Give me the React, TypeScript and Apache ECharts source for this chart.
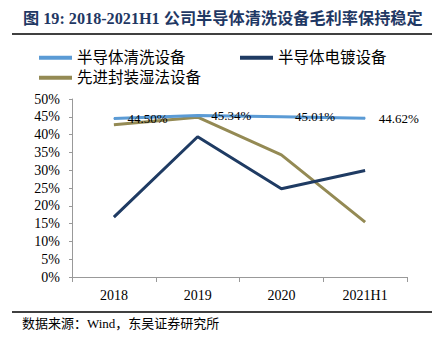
import React, { useEffect, useRef } from "react";
import * as echarts from "echarts";

const categories = ["2018", "2019", "2020", "2021H1"];
const cleaning = [44.5, 45.34, 45.01, 44.62];
const plating = [16.8, 39.4, 24.8, 29.9];
const wetProcess = [42.8, 44.9, 34.3, 15.4];
const yTicks = [0, 5, 10, 15, 20, 25, 30, 35, 40, 45, 50];

const seriesNames = ["半导体清洗设备", "半导体电镀设备", "先进封装湿法设备"];
const colors = ["#5B9BD5", "#1F3B63", "#948A54"];

const SERIF = '"Liberation Serif", "Times New Roman", "Noto Sans CJK SC", serif';

export default function App() {
  const ref = useRef<HTMLDivElement>(null);
  useEffect(() => {
    if (!ref.current) return;
    const chart = echarts.init(ref.current, undefined, { renderer: "svg" });
    const legendText = { fontSize: 15.5, color: "#000", fontFamily: SERIF };
    const legendBase = { itemWidth: 33, itemHeight: 4, icon: "rect", padding: 0, textStyle: legendText, itemGap: 4 };
    chart.setOption({
      animation: false,
      backgroundColor: "#fff",
      grid: { left: 72, right: 38, top: 99, bottom: 65 },
      legend: [
        { ...legendBase, data: [seriesNames[0]], left: 39, top: 50 },
        { ...legendBase, data: [seriesNames[1]], left: 240, top: 50 },
        { ...legendBase, data: [seriesNames[2]], left: 39, top: 70 },
      ],
      xAxis: {
        type: "category",
        data: categories,
        boundaryGap: true,
        axisLine: { lineStyle: { color: "#999" } },
        axisTick: { show: true, alignWithLabel: false, length: 5, lineStyle: { color: "#999" } },
        axisLabel: { color: "#000", fontSize: 14, fontFamily: SERIF, margin: 11 },
      },
      yAxis: {
        type: "value",
        min: yTicks[0],
        max: yTicks[yTicks.length - 1],
        interval: 5,
        axisLine: { show: true, lineStyle: { color: "#999" } },
        axisTick: { show: true, length: 3, lineStyle: { color: "#999" } },
        splitLine: { show: false },
        axisLabel: { color: "#000", fontSize: 14, fontFamily: SERIF, margin: 12, formatter: "{value}%" },
      },
      series: [
        {
          name: seriesNames[0],
          type: "line",
          data: cleaning,
          symbol: "circle",
          symbolSize: 1,
          lineStyle: { width: 3, color: colors[0] },
          itemStyle: { color: colors[0] },
          z: 2,
          label: {
            show: true,
            position: "right",
            distance: 13,
            color: "#000",
            fontSize: 13,
            fontFamily: SERIF,
            formatter: (p: any) => p.value.toFixed(2) + "%",
          },
        },
        {
          name: seriesNames[1],
          type: "line",
          data: plating,
          symbol: "none",
          lineStyle: { width: 3, color: colors[1] },
          itemStyle: { color: colors[1] },
          z: 3,
        },
        {
          name: seriesNames[2],
          type: "line",
          data: wetProcess,
          symbol: "none",
          lineStyle: { width: 3, color: colors[2] },
          itemStyle: { color: colors[2] },
          z: 1,
        },
      ],
      graphic: [
        {
          type: "text",
          left: 23,
          top: 11,
          style: {
            text: "图 19: 2018-2021H1 公司半导体清洗设备毛利率保持稳定",
            fontSize: 16.2,
            fontWeight: "bold",
            fill: "#1F3864",
            fontFamily: SERIF,
          },
        },
        {
          type: "line",
          shape: { x1: 12, y1: 34, x2: 432, y2: 34 },
          style: { stroke: "#000", lineWidth: 1.5 },
        },
        {
          type: "line",
          shape: { x1: 12, y1: 312, x2: 432, y2: 312 },
          style: { stroke: "#000", lineWidth: 1.5 },
        },
        {
          type: "text",
          left: 22,
          top: 317,
          style: {
            text: "数据来源：Wind，东吴证券研究所",
            fontSize: 13,
            fill: "#000",
            fontFamily: SERIF,
          },
        },
      ],
    });
    return () => chart.dispose();
  }, []);
  return <div ref={ref} style={{ width: 445, height: 342, position: "absolute", left: 0, top: 0 }} />;
}
